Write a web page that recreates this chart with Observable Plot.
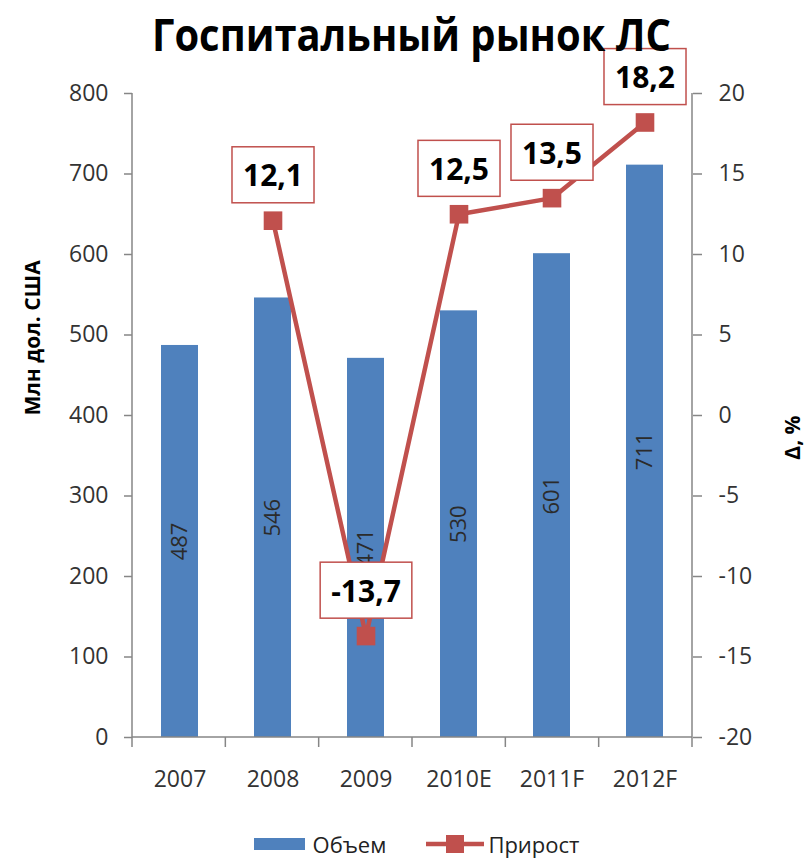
<!DOCTYPE html>
<html>
<head>
<meta charset="utf-8">
<script src="https://cdn.jsdelivr.net/npm/d3@7"></script>
<script src="https://cdn.jsdelivr.net/npm/@observablehq/plot@0.6"></script>
<style>
  html, body { margin: 0; padding: 0; background: #fff; }
  body { width: 807px; font-family: "Open Sans", sans-serif; }
  #title { height: 56px; font-size: 45px; font-weight: 700; color: #000; text-align: center; white-space: nowrap; position: relative; }
  #title span { display: inline-block; position: relative; top: 3px; line-height: 44px; transform-origin: center; }
  #legend { display: flex; justify-content: center; align-items: center; height: 30px; margin-top: 32px; font-size: 22px; color: #222; padding-left: 26px; }
  #legend .item { display: flex; align-items: center; }
  #legend .sw { width: 51px; height: 12px; background: #4F81BD; margin-right: 8px; }
  #legend svg { margin-right: 4px; }
  #chart svg { overflow: visible; }
</style>
</head>
<body>
<div id="title"><span>Госпитальный рынок ЛС</span></div>
<div id="chart"></div>
<div id="legend">
  <div class="item"><div class="sw"></div><span>Объем</span></div>
  <div class="item" style="margin-left:40px"><svg width="58" height="20"><line x1="0" y1="10" x2="58" y2="10" stroke="#C0504D" stroke-width="4.5"/><rect x="20" y="1" width="18" height="18" fill="#C0504D"/></svg><span>Прирост</span></div>
</div>
<script>
const categories = ["2007", "2008", "2009", "2010E", "2011F", "2012F"];
const volume = [487, 546, 471, 530, 601, 711];
const growth = [null, 12.1, -13.7, 12.5, 13.5, 18.2];
const leftTicks = [0, 100, 200, 300, 400, 500, 600, 700, 800];
const rightTicks = [-20, -15, -10, -5, 0, 5, 10, 15, 20];
const leftTitle = "Млн дол. США";
const rightTitle = "Δ, %";

// map right-axis (growth, %) values onto the left-axis scale
const toLeft = g => (g + 20) * 20;
const fmt = v => String(v).replace(".", ",");

const bars = categories.map((c, i) => ({cat: c, value: volume[i]}));
const pts = categories.map((c, i) => ({cat: c, g: growth[i]})).filter(d => d.g != null);

const axisLines = (index, scales, values, dims) => {
  const {width, height, marginLeft, marginRight, marginTop, marginBottom} = dims;
  const x0 = marginLeft, x1 = width - marginRight, y0 = height - marginBottom;
  const g = d3.create("svg:g").attr("stroke", "#868686").attr("stroke-width", 1.5).attr("fill", "none");
  g.append("line").attr("x1", x0).attr("x2", x0).attr("y1", marginTop).attr("y2", y0);
  g.append("line").attr("x1", x1).attr("x2", x1).attr("y1", marginTop).attr("y2", y0);
  g.append("line").attr("x1", x0).attr("x2", x1).attr("y1", y0).attr("y2", y0);
  const n = categories.length, step = (x1 - x0) / n;
  for (let i = 0; i <= n; i++) {
    g.append("line").attr("x1", x0 + i * step).attr("x2", x0 + i * step).attr("y1", y0).attr("y2", y0 + 10);
  }
  return g.node();
};

const chart = Plot.plot({
  width: 807,
  height: 741,
  marginTop: 37,
  marginLeft: 132,
  marginRight: 115,
  marginBottom: 60,
  style: {fontFamily: "'Open Sans', sans-serif", color: "#333", background: "transparent"},
  x: {domain: categories, paddingInner: 0.6, paddingOuter: 0.3, axis: null},
  y: {domain: [0, 800], axis: null},
  marks: [
    Plot.barY(bars, {x: "cat", y: "value", fill: "#4F81BD"}),
    Plot.text(bars, {x: "cat", y: d => d.value / 2, text: d => String(d.value), rotate: -90, fontSize: 22, fill: "#2b2b2b"}),
    Plot.line(pts, {x: "cat", y: d => toLeft(d.g), stroke: "#C0504D", strokeWidth: 4.5, strokeLinejoin: "round"}),
    Plot.dot(pts, {x: "cat", y: d => toLeft(d.g), symbol: "square", r: 10.5, fill: "#C0504D"}),
    Plot.text(pts, {x: "cat", y: d => toLeft(d.g), text: d => fmt(d.g), dy: -44, fontSize: 30, fontWeight: "bold", fill: "#000", ariaDescription: "growth-labels"}),
    axisLines,
    Plot.axisX(categories, {anchor: "bottom", tickSize: 0, tickPadding: 33, fontSize: 23, label: null}),
    Plot.axisY(leftTicks, {anchor: "left", tickSize: 8, tickPadding: 16, fontSize: 23, stroke: "#868686", strokeWidth: 1.5, label: null}),
    Plot.axisY(rightTicks.map(toLeft), {anchor: "right", tickSize: 9, tickPadding: 17, fontSize: 23, tickFormat: v => String(v / 20 - 20), stroke: "#868686", strokeWidth: 1.5, label: null}),
    Plot.text([leftTitle], {frameAnchor: "left", dx: -99, rotate: -90, fontSize: 21, fontWeight: "bold", fill: "#000"}),
    Plot.text([rightTitle], {frameAnchor: "right", dx: 101, rotate: -90, fontSize: 21, fontWeight: "bold", fill: "#000"})
  ]
});
document.getElementById("chart").appendChild(chart);

// white boxes with red border behind the growth labels
const labelTexts = new Set(pts.map(d => fmt(d.g)));
const candidates = Array.from(chart.querySelectorAll('g[aria-description="growth-labels"] text'));
const targets = candidates.length ? candidates : Array.from(chart.querySelectorAll("text")).filter(t => labelTexts.has(t.textContent) && t.closest("g") && t.closest("g").getAttribute("font-weight") === "bold");
targets.forEach(t => {
  const b = t.getBBox();
  const cy = b.y + b.height / 2;
  const r = document.createElementNS("http://www.w3.org/2000/svg", "rect");
  r.setAttribute("x", b.x - 11);
  r.setAttribute("width", b.width + 22);
  r.setAttribute("y", cy - 28);
  r.setAttribute("height", 56);
  r.setAttribute("fill", "#fff");
  r.setAttribute("stroke", "#C0504D");
  r.setAttribute("stroke-width", 1.5);
  if (t.getAttribute("transform")) r.setAttribute("transform", t.getAttribute("transform"));
  t.parentNode.insertBefore(r, t);
});

// fit the title width to the reference
const ts = document.querySelector("#title span");
const tw = ts.getBoundingClientRect().width;
ts.style.transform = `translateX(8px) scaleX(${519 / tw})`;
</script>
</body>
</html>
